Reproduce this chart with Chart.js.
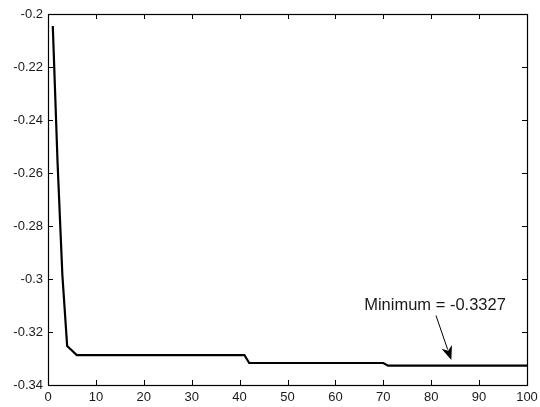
<!DOCTYPE html>
<html>
<head>
<meta charset="utf-8">
<script src="https://cdn.jsdelivr.net/npm/chart.js@4/dist/chart.umd.min.js"></script>
<style>
  html, body { margin: 0; padding: 0; background: #fff; }
  #wrap { width: 540px; height: 407px; position: relative; }
</style>
</head>
<body>
<div id="wrap"><canvas id="chart"></canvas></div>
<script>
// iteration vs. objective value (only the corner points of the curve)
const iterations = [1, 2, 3, 4, 5, 6, 41, 42, 70, 71, 100];
const values = [-0.2045, -0.2562, -0.2985, -0.3253, -0.3270, -0.3287, -0.3287, -0.3317, -0.3317, -0.3327, -0.3327];

const xTicks = [0, 10, 20, 30, 40, 50, 60, 70, 80, 90, 100];
const yTicks = [-0.34, -0.32, -0.3, -0.28, -0.26, -0.24, -0.22, -0.2];

// annotation: label position, arrow tail and arrow tip (data units)
const noteText = 'Minimum = -0.3327';
const notePos = [80.8, -0.3098];
const arrowFrom = [81.0, -0.3138];
const arrowTo = [84.2, -0.3306];

const fontFamily = '"Liberation Sans", Arial, Helvetica, sans-serif';

// box round the plot with inward ticks on all four sides, like matlab
const boxPlugin = {
  id: 'box',
  afterDatasetsDraw(chart) {
    const { ctx, chartArea: a, scales } = chart;
    const tl = 5;
    ctx.save();
    ctx.strokeStyle = '#000';
    ctx.lineWidth = 1;
    ctx.beginPath();
    xTicks.forEach(v => {
      const px = Math.round(scales.x.getPixelForValue(v)) + 0.5;
      ctx.moveTo(px, a.bottom); ctx.lineTo(px, a.bottom - tl);
      ctx.moveTo(px, a.top); ctx.lineTo(px, a.top + tl);
    });
    yTicks.forEach(v => {
      const py = Math.round(scales.y.getPixelForValue(v)) + 0.5;
      ctx.moveTo(a.left, py); ctx.lineTo(a.left + tl, py);
      ctx.moveTo(a.right, py); ctx.lineTo(a.right - tl, py);
    });
    ctx.stroke();
    ctx.lineWidth = 1.2;
    ctx.strokeRect(Math.round(a.left) + 0.5, Math.round(a.top) + 0.5,
      Math.round(a.right - a.left), Math.round(a.bottom - a.top));
    ctx.restore();
  }
};

const notePlugin = {
  id: 'note',
  afterDatasetsDraw(chart) {
    const { ctx, scales } = chart;
    const x0 = scales.x.getPixelForValue(arrowFrom[0]);
    const y0 = scales.y.getPixelForValue(arrowFrom[1]);
    const x1 = scales.x.getPixelForValue(arrowTo[0]);
    const y1 = scales.y.getPixelForValue(arrowTo[1]);
    const ang = Math.atan2(y1 - y0, x1 - x0);
    const headLen = 14, headW = 5.5;
    ctx.save();
    ctx.strokeStyle = '#000';
    ctx.fillStyle = '#000';
    ctx.lineWidth = 1;
    ctx.beginPath();
    ctx.moveTo(x0, y0);
    ctx.lineTo(x1 - Math.cos(ang) * headLen * 0.8, y1 - Math.sin(ang) * headLen * 0.8);
    ctx.stroke();
    const bx = x1 - Math.cos(ang) * headLen;
    const by = y1 - Math.sin(ang) * headLen;
    ctx.beginPath();
    ctx.moveTo(x1, y1);
    ctx.lineTo(bx + Math.sin(ang) * headW, by - Math.cos(ang) * headW);
    ctx.lineTo(x1 - Math.cos(ang) * headLen * 0.7, y1 - Math.sin(ang) * headLen * 0.7);
    ctx.lineTo(bx - Math.sin(ang) * headW, by + Math.cos(ang) * headW);
    ctx.closePath();
    ctx.fill();

    ctx.font = '16.5px ' + fontFamily;
    ctx.textAlign = 'center';
    ctx.textBaseline = 'middle';
    ctx.fillStyle = '#1a1a1a';
    ctx.fillText(noteText, scales.x.getPixelForValue(notePos[0]), scales.y.getPixelForValue(notePos[1]));
    ctx.restore();
  }
};

const ctx = document.getElementById('chart').getContext('2d');
new Chart(ctx, {
  type: 'line',
  data: {
    datasets: [{
      data: iterations.map((x, i) => ({ x: x, y: values[i] })),
      borderColor: '#000',
      borderWidth: 2.2,
      pointRadius: 0,
      tension: 0,
      fill: false
    }]
  },
  options: {
    responsive: true,
    maintainAspectRatio: false,
    animation: false,
    layout: { padding: { left: 0, right: 13, top: 14, bottom: 0 } },
    plugins: {
      legend: { display: false },
      tooltip: { enabled: false }
    },
    scales: {
      x: {
        type: 'linear',
        min: 0,
        max: 100,
        grid: { display: false, drawTicks: false },
        border: { display: false },
        afterBuildTicks(scale) { scale.ticks = xTicks.map(v => ({ value: v })); },
        afterFit(scale) {
          scale.height = 22;
          scale.paddingLeft = 0;
          scale.paddingRight = 0;
        },
        ticks: {
          padding: 5,
          color: '#1a1a1a',
          font: { family: fontFamily, size: 13 },
          maxRotation: 0,
          callback: v => String(v)
        }
      },
      y: {
        min: -0.34,
        max: -0.2,
        grid: { display: false, drawTicks: false },
        border: { display: false },
        afterBuildTicks(scale) { scale.ticks = yTicks.map(v => ({ value: v })); },
        afterFit(scale) {
          scale.width = 48;
          scale.paddingTop = 0;
          scale.paddingBottom = 0;
        },
        ticks: {
          padding: 5,
          color: '#1a1a1a',
          font: { family: fontFamily, size: 13 },
          callback: v => String(parseFloat(Number(v).toFixed(2)))
        }
      }
    }
  },
  plugins: [boxPlugin, notePlugin]
});
</script>
</body>
</html>
